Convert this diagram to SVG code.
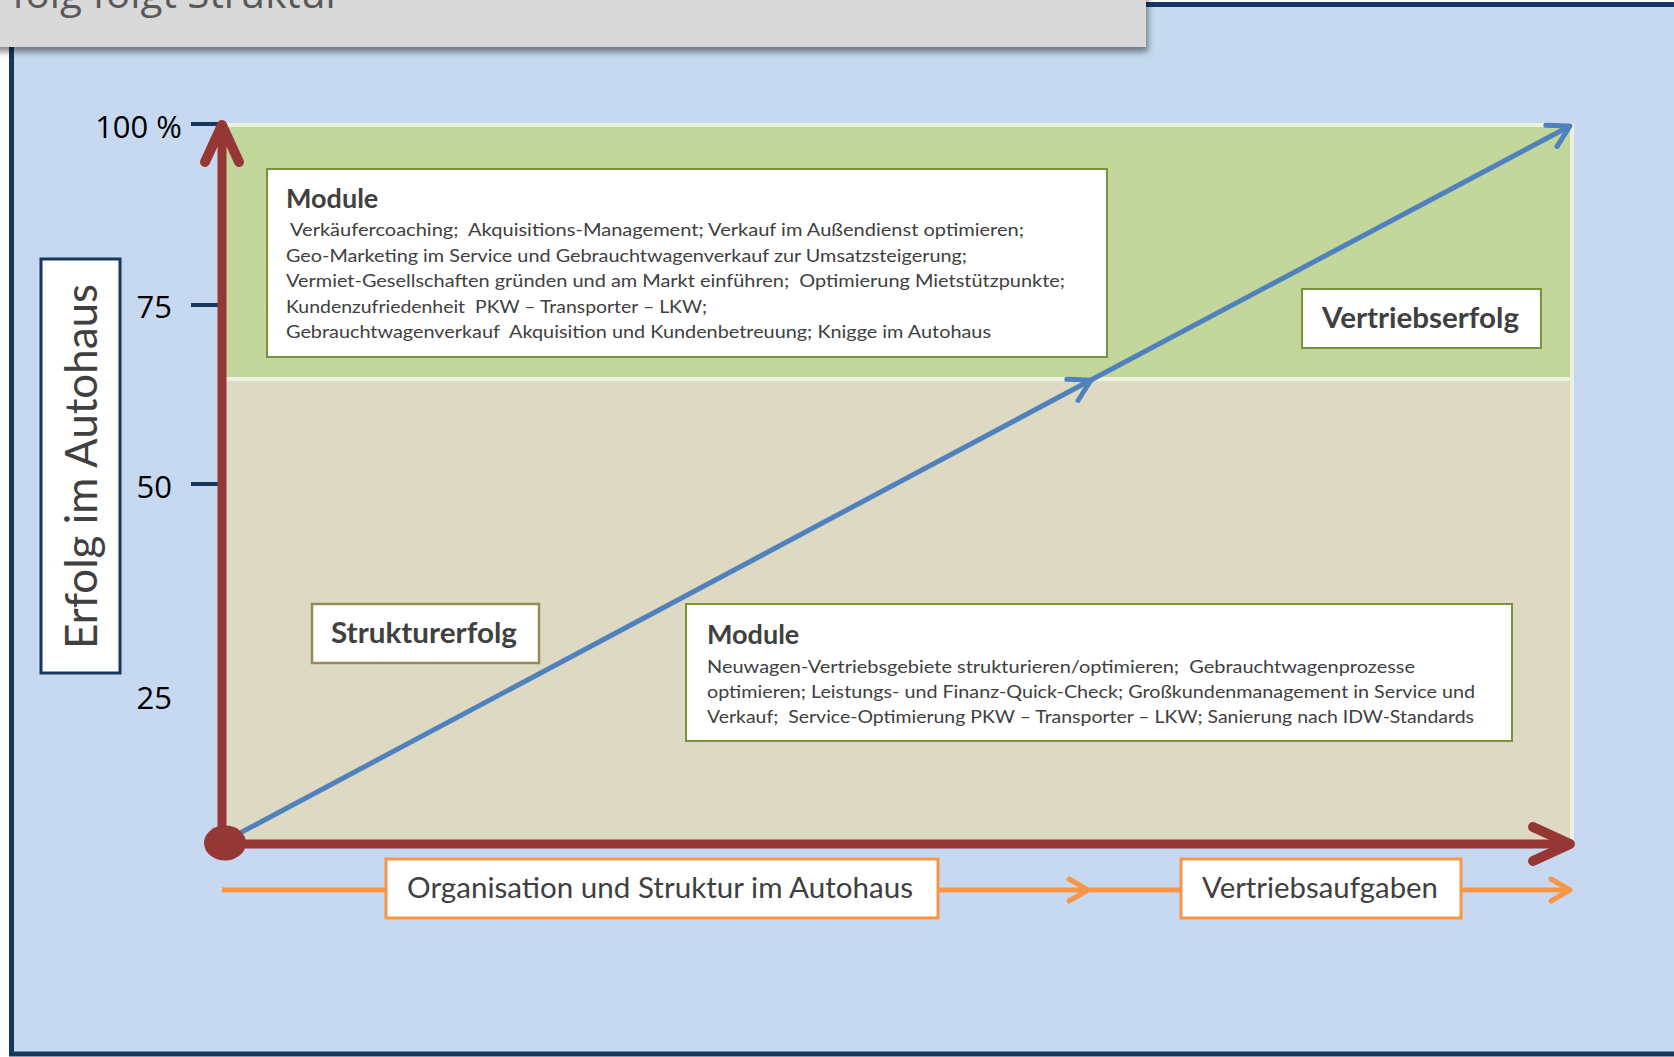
<svg xmlns="http://www.w3.org/2000/svg" width="1674" height="1057" viewBox="0 0 1674 1057">
<defs>
<style>
.lato{font-family:Lato,"Open Sans","Liberation Sans",sans-serif;fill:#404040}
.body{font-size:18px;white-space:pre}
.title{font-size:27px;font-weight:bold}
.lbl{font-size:28px;font-weight:bold}
.ora{font-size:29px}
.num{font-family:"Open Sans","Liberation Sans",sans-serif;font-size:31px;fill:#000}
.tick{stroke:#17375e;stroke-width:4}
.gbox{fill:#fff;stroke:#77933c;stroke-width:2}
.obox{fill:#fff;stroke:#f79646;stroke-width:3}
</style>
<filter id="sh" x="-5%" y="-50%" width="110%" height="200%">
<feDropShadow dx="2" dy="5" stdDeviation="3" flood-color="#000" flood-opacity="0.45"/>
</filter>
<marker id="mRed" markerUnits="userSpaceOnUse" viewBox="-45 -25 52 50" markerWidth="52" markerHeight="50" refX="0" refY="0" orient="auto">
<path d="M-37,-17 L0,0 L-37,17" fill="none" stroke="#953735" stroke-width="10" stroke-linecap="round" stroke-linejoin="round"/>
</marker>
<marker id="mBlue" markerUnits="userSpaceOnUse" viewBox="-28 -18 34 36" markerWidth="34" markerHeight="36" refX="0" refY="0" orient="auto">
<path d="M-21,-12 L0,0 L-21,12" fill="none" stroke="#4f81bd" stroke-width="5" stroke-linecap="round" stroke-linejoin="round"/>
</marker>
<marker id="mOra" markerUnits="userSpaceOnUse" viewBox="-26 -16 32 32" markerWidth="32" markerHeight="32" refX="0" refY="0" orient="auto">
<path d="M-19,-11 L0,0 L-19,11" fill="none" stroke="#f79646" stroke-width="5" stroke-linecap="round" stroke-linejoin="round"/>
</marker>
</defs>
<rect x="0" y="0" width="1674" height="1057" fill="#fff"/>
<g id="frame">
<rect x="11.5" y="4.5" width="1700" height="1049.5" fill="#c6d9f0" stroke="#17375e" stroke-width="5"/>
</g>
<g id="title">
<rect x="-10" y="-20" width="1156" height="67" fill="#d9d9d9" filter="url(#sh)"/>
<text x="12" y="8" font-family="'Open Sans','Liberation Sans',sans-serif" font-size="40" fill="#595959" textLength="330" lengthAdjust="spacingAndGlyphs">folg folgt Struktur</text>
</g>
<g id="regions">
<rect x="223" y="125" width="1349" height="254" fill="#c3d69b" stroke="#ebf1de" stroke-width="4"/>
<rect x="223" y="379" width="1349" height="464" fill="#ddd9c3" stroke="#ebf1de" stroke-width="4"/>
</g>
<g id="scale">
<line class="tick" x1="191" y1="124" x2="220" y2="124"/>
<line class="tick" x1="191" y1="305" x2="220" y2="305"/>
<line class="tick" x1="191" y1="484" x2="220" y2="484"/>
<text class="num" x="182" y="138" text-anchor="end">100 %</text>
<text class="num" x="172" y="318" text-anchor="end">75</text>
<text class="num" x="172" y="498" text-anchor="end">50</text>
<text class="num" x="172" y="709" text-anchor="end">25</text>
</g>
<g id="yaxis-label">
<rect x="41" y="259" width="79" height="414" fill="#fff" stroke="#17375e" stroke-width="3"/>
<text class="lato" x="0" y="0" font-size="45" transform="translate(97,649) rotate(-90)" textLength="365" lengthAdjust="spacingAndGlyphs">Erfolg im Autohaus</text>
</g>
<g id="connectors">
<line x1="240" y1="833" x2="1091" y2="380" stroke="#4f81bd" stroke-width="5" marker-end="url(#mBlue)"/>
<line x1="1091" y1="380" x2="1570" y2="126" stroke="#4f81bd" stroke-width="5" marker-end="url(#mBlue)"/>
<line x1="222" y1="843" x2="222" y2="125" stroke="#953735" stroke-width="9" marker-end="url(#mRed)"/>
<line x1="222" y1="844" x2="1570" y2="844" stroke="#953735" stroke-width="9" marker-end="url(#mRed)"/>
<ellipse cx="225" cy="843" rx="21" ry="17.5" fill="#953735"/>
<line x1="222" y1="890" x2="1088" y2="890" stroke="#f79646" stroke-width="5" marker-end="url(#mOra)"/>
<line x1="1088" y1="890" x2="1570" y2="890" stroke="#f79646" stroke-width="5" marker-end="url(#mOra)"/>
</g>
<g id="module1">
<rect class="gbox" x="267" y="169" width="840" height="188"/>
<text class="lato title" x="286" y="208">Module</text>
<text class="lato body" x="290" y="236" textLength="734" lengthAdjust="spacingAndGlyphs">Verkäufercoaching;  Akquisitions-Management; Verkauf im Außendienst optimieren;</text>
<text class="lato body" x="286" y="261.5" textLength="681" lengthAdjust="spacingAndGlyphs">Geo-Marketing im Service und Gebrauchtwagenverkauf zur Umsatzsteigerung;</text>
<text class="lato body" x="286" y="287" textLength="779" lengthAdjust="spacingAndGlyphs">Vermiet-Gesellschaften gründen und am Markt einführen;  Optimierung Mietstützpunkte;</text>
<text class="lato body" x="286" y="312.5" textLength="421" lengthAdjust="spacingAndGlyphs">Kundenzufriedenheit  PKW – Transporter – LKW;</text>
<text class="lato body" x="286" y="338" textLength="705" lengthAdjust="spacingAndGlyphs">Gebrauchtwagenverkauf  Akquisition und Kundenbetreuung; Knigge im Autohaus</text>
</g>
<g id="vertriebserfolg">
<rect class="gbox" x="1302" y="289" width="239" height="59"/>
<text class="lato lbl" x="1322" y="328" textLength="197" lengthAdjust="spacingAndGlyphs">Vertriebserfolg</text>
</g>
<g id="strukturerfolg">
<rect x="312" y="604" width="227" height="59" fill="#fff" stroke="#948a54" stroke-width="2.5"/>
<text class="lato lbl" x="331" y="643" textLength="186" lengthAdjust="spacingAndGlyphs">Strukturerfolg</text>
</g>
<g id="module2">
<rect class="gbox" x="686" y="604" width="826" height="137"/>
<text class="lato title" x="707" y="644">Module</text>
<text class="lato body" x="707" y="672.5" textLength="708" lengthAdjust="spacingAndGlyphs">Neuwagen-Vertriebsgebiete strukturieren/optimieren;  Gebrauchtwagenprozesse</text>
<text class="lato body" x="707" y="697.5" textLength="768" lengthAdjust="spacingAndGlyphs">optimieren; Leistungs- und Finanz-Quick-Check; Großkundenmanagement in Service und</text>
<text class="lato body" x="707" y="722.5" textLength="767" lengthAdjust="spacingAndGlyphs">Verkauf;  Service-Optimierung PKW – Transporter – LKW; Sanierung nach IDW-Standards</text>
</g>
<g id="organisation">
<rect class="obox" x="386" y="859" width="552" height="59"/>
<text class="lato ora" x="407" y="898" textLength="506" lengthAdjust="spacingAndGlyphs">Organisation und Struktur im Autohaus</text>
</g>
<g id="vertriebsaufgaben">
<rect class="obox" x="1181" y="859" width="280" height="59"/>
<text class="lato ora" x="1202" y="898" textLength="236" lengthAdjust="spacingAndGlyphs">Vertriebsaufgaben</text>
</g>
</svg>
